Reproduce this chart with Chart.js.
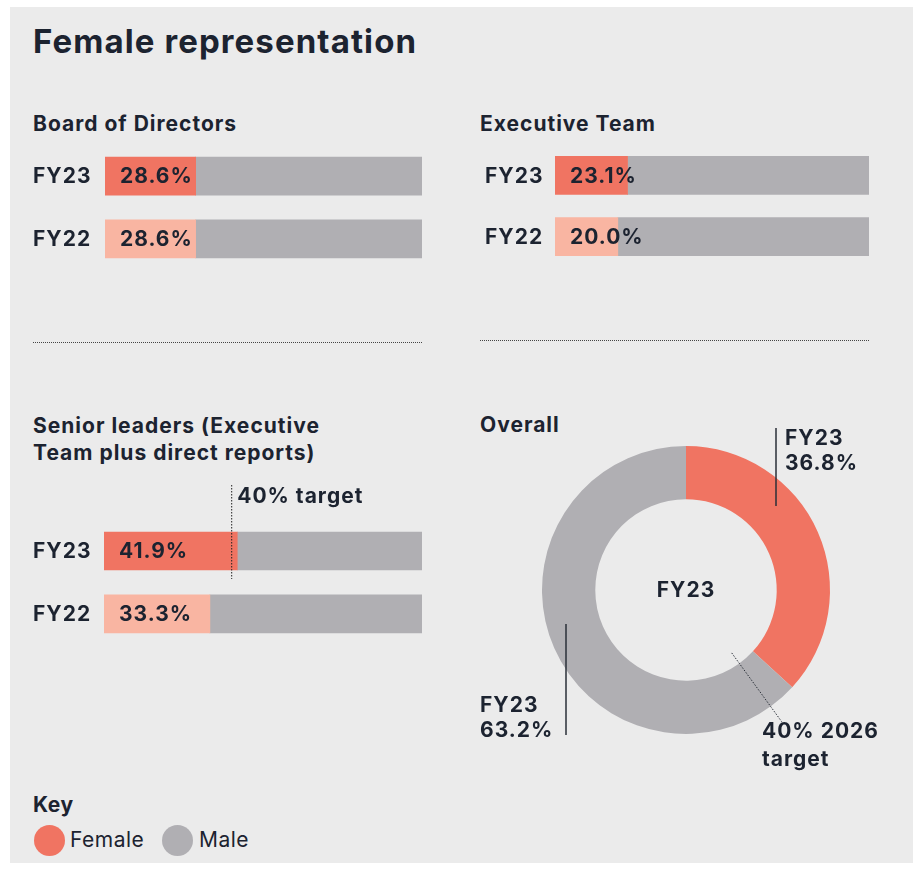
<!DOCTYPE html>
<html>
<head>
<meta charset="utf-8">
<script src="https://cdn.jsdelivr.net/npm/chart.js@4.4.0/dist/chart.umd.min.js"></script>
<style>
  body { margin: 0; background: #fff; font-family: Inter, "Noto Sans", sans-serif; color: #1c2330; }
  #panel { position: absolute; left: 10px; top: 7px; width: 903px; height: 856px; background: #ebebeb; }
  h1 { position: absolute; left: 33px; top: 21px; margin: 0; font-size: 33px; font-weight: 700; letter-spacing: 1.1px; }
  .sub { position: absolute; margin: 0; font-size: 21px; font-weight: 700; line-height: 27px; letter-spacing: 1px; }
  .dots { position: absolute; height: 0; border-top: 1.5px dotted #444; }
  canvas { position: absolute; }
  .key { position: absolute; font-size: 21px; letter-spacing: 0.5px; }
  .dot { position: absolute; width: 31px; height: 31px; border-radius: 50%; }
</style>
</head>
<body>
<div id="panel"></div>
<h1>Female representation</h1>
<div class="sub" style="left:33px; top:110px;">Board of Directors</div>
<div class="sub" style="left:480px; top:110px;">Executive Team</div>
<div class="dots" style="left:33px; top:342px; width:389px;"></div>
<div class="dots" style="left:480px; top:340px; width:389px;"></div>
<div class="sub" style="left:33px; top:412px;">Senior leaders (Executive<br>Team plus direct reports)</div>
<div class="sub" style="left:480px; top:411px;">Overall</div>

<canvas id="board" width="389" height="151" style="left:33px; top:132px;"></canvas>
<canvas id="exec" width="384" height="148" style="left:485px; top:132px;"></canvas>
<canvas id="senior" width="389" height="178" style="left:33px; top:480px;"></canvas>
<canvas id="overall" width="440" height="370" style="left:470px; top:410px;"></canvas>

<div class="key" style="left:33px; top:792px; font-weight:700;">Key</div>
<div class="dot" style="left:34px; top:825px; background:#f07462;"></div>
<div class="key" style="left:70px; top:827px;">Female</div>
<div class="dot" style="left:162px; top:825px; background:#b0afb3;"></div>
<div class="key" style="left:199px; top:827px;">Male</div>

<script>
const years = ['FY23', 'FY22'];
const boardFemale = [28.6, 28.6];
const boardMale = [71.4, 71.4];
const execFemale = [23.1, 20.0];
const execMale = [76.9, 80.0];
const seniorFemale = [41.9, 33.3];
const seniorMale = [58.1, 66.7];
const seniorTarget = 40;
const overallLabels = ['Female', 'Male'];
const overallValues = [36.8, 63.2];
const overallTarget = 40;

const TXT = '#1c2330';
const FEMALE_COLORS = ['#f07462', '#f9b5a2'];
const MALE = '#b0afb3';
const FONT = 'Inter, "Noto Sans", sans-serif';

// canvas text gets no css letter-spacing, so set it on the context
const spacing = {
    id: 'spacing',
    beforeDraw(chart) { chart.ctx.letterSpacing = '1px'; }
};

const valueLabels = {
    id: 'valueLabels',
    afterDatasetsDraw(chart) {
        const ctx = chart.ctx;
        const meta = chart.getDatasetMeta(0);
        ctx.save();
        ctx.font = `700 21px ${FONT}`;
        ctx.fillStyle = TXT;
        ctx.textBaseline = 'middle';
        ctx.textAlign = 'left';
        meta.data.forEach((bar, i) => {
            const v = chart.data.datasets[0].data[i];
            ctx.fillText(v.toFixed(1) + '%', bar.base + 15, bar.y + 1);
        });
        ctx.restore();
    }
};

function makeBar(id, female, male, axisWidth, padTop, extra) {
    const plugins = [spacing, valueLabels];
    if (extra) plugins.push(extra);
    return new Chart(document.getElementById(id), {
        type: 'bar',
        data: {
            labels: years,
            datasets: [
                { label: 'Female', data: female, backgroundColor: FEMALE_COLORS, barThickness: 38 },
                { label: 'Male', data: male, backgroundColor: MALE, barThickness: 38 }
            ]
        },
        options: {
            indexAxis: 'y',
            responsive: false,
            animation: false,
            layout: { padding: { top: padTop, left: 0, right: 0, bottom: 12 } },
            plugins: { legend: { display: false }, tooltip: { enabled: false } },
            scales: {
                x: { stacked: true, min: 0, max: 100, display: false },
                y: {
                    stacked: true,
                    grid: { display: false },
                    border: { display: false },
                    afterFit(scale) { scale.width = axisWidth; },
                    ticks: {
                        crossAlign: 'far',
                        padding: 0,
                        labelOffset: 1,
                        color: TXT,
                        font: { family: FONT, size: 21, weight: '700' }
                    }
                }
            }
        },
        plugins
    });
}

const targetLine = {
    id: 'targetLine',
    afterDatasetsDraw(chart) {
        const ctx = chart.ctx;
        const x = chart.scales.x.getPixelForValue(seniorTarget);
        const bar = chart.getDatasetMeta(0).data[0];
        ctx.save();
        ctx.strokeStyle = '#222';
        ctx.lineWidth = 1;
        ctx.setLineDash([1.5, 1.5]);
        ctx.beginPath();
        ctx.moveTo(x + 0.5, 5);
        ctx.lineTo(x + 0.5, bar.y + bar.height / 2 + 9);
        ctx.stroke();
        ctx.setLineDash([]);
        ctx.font = `700 21px ${FONT}`;
        ctx.fillStyle = TXT;
        ctx.textBaseline = 'middle';
        ctx.fillText(seniorTarget + '% target', x + 6, 17);
        ctx.restore();
    }
};

makeBar('board', boardFemale, boardMale, 72, 12);
makeBar('exec', execFemale, execMale, 70, 12);
makeBar('senior', seniorFemale, seniorMale, 71, 39.5, targetLine);

const donutNotes = {
    id: 'donutNotes',
    afterDatasetsDraw(chart) {
        const ctx = chart.ctx;
        const arc = chart.getDatasetMeta(0).data[0];
        const cx = arc.x, cy = arc.y, R = arc.outerRadius;
        ctx.save();
        ctx.letterSpacing = '1px';
        ctx.fillStyle = TXT;
        ctx.strokeStyle = '#2a2f38';
        ctx.font = `700 21px ${FONT}`;
        ctx.textBaseline = 'middle';
        ctx.textAlign = 'center';
        ctx.fillText('FY23', cx, cy + 1);

        ctx.textAlign = 'left';
        // female note
        ctx.lineWidth = 1.5;
        ctx.beginPath();
        ctx.moveTo(cx + 90, cy - 162);
        ctx.lineTo(cx + 90, cy - 84);
        ctx.stroke();
        ctx.fillText('FY23', cx + 99, cy - 151);
        ctx.fillText(overallValues[0].toFixed(1) + '%', cx + 99, cy - 126);
        // male note
        ctx.beginPath();
        ctx.moveTo(cx - 120, cy + 34);
        ctx.lineTo(cx - 120, cy + 145);
        ctx.stroke();
        ctx.fillText('FY23', cx - 206, cy + 116);
        ctx.fillText(overallValues[1].toFixed(1) + '%', cx - 206, cy + 141);
        // 2026 target marker
        const a = -Math.PI / 2 + overallTarget / 100 * Math.PI * 2;
        ctx.lineWidth = 1;
        ctx.setLineDash([1.5, 1.5]);
        ctx.beginPath();
        ctx.moveTo(cx + Math.cos(a) * R * 0.54, cy + Math.sin(a) * R * 0.54);
        ctx.lineTo(cx + Math.cos(a) * R * 1.13, cy + Math.sin(a) * R * 1.13);
        ctx.stroke();
        ctx.setLineDash([]);
        ctx.fillText(overallTarget + '% 2026', cx + 76, cy + 142);
        ctx.fillText('target', cx + 76, cy + 170);
        ctx.restore();
    }
};

new Chart(document.getElementById('overall'), {
    type: 'doughnut',
    data: {
        labels: overallLabels,
        datasets: [{ data: overallValues, backgroundColor: [FEMALE_COLORS[0], MALE], borderWidth: 0 }]
    },
    options: {
        responsive: false,
        animation: false,
        cutout: '63%',
        layout: { padding: { left: 72, right: 80, top: 36, bottom: 46 } },
        plugins: { legend: { display: false }, tooltip: { enabled: false } }
    },
    plugins: [donutNotes]
});
</script>
</body>
</html>
